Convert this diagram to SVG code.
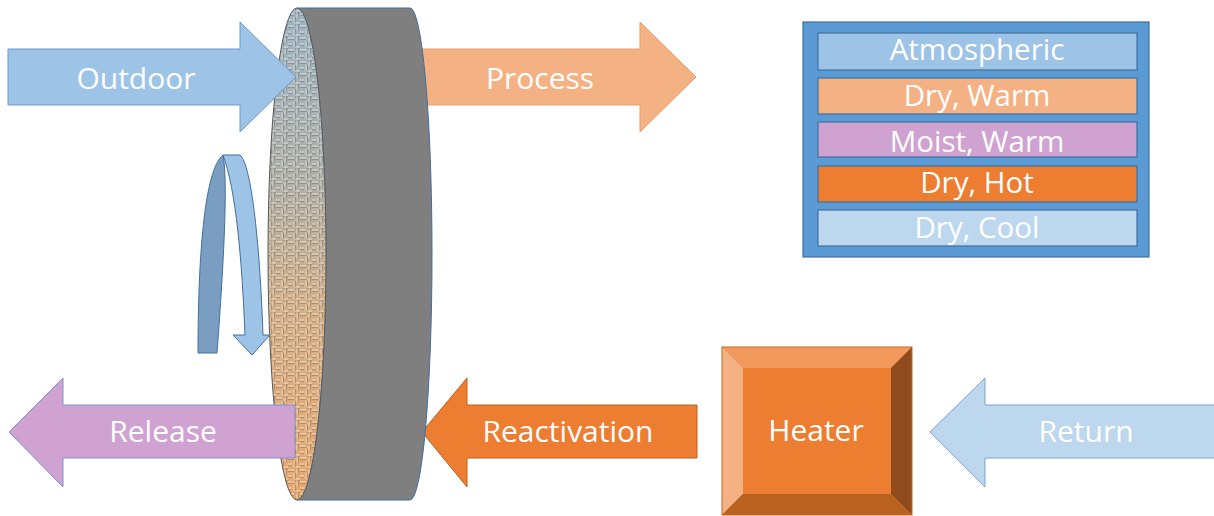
<svg xmlns="http://www.w3.org/2000/svg" width="1214" height="516" viewBox="0 0 1214 516">
  <style>
    .lbl { font-family: "Open Sans", "Liberation Sans", sans-serif; font-size: 30px; fill: #ffffff; text-anchor: middle; }
    .leg { font-family: "Open Sans", "Liberation Sans", sans-serif; font-size: 29.5px; fill: #ffffff; text-anchor: middle; }
    .row { stroke: #41719C; stroke-width: 1.2; }
  </style>
  <defs>
    <linearGradient id="faceGrad" x1="0" y1="0" x2="0" y2="1">
      <stop offset="0" stop-color="#9EB4C2"/>
      <stop offset="0.35" stop-color="#AEAFA8"/>
      <stop offset="0.6" stop-color="#D2AF88"/>
      <stop offset="1" stop-color="#E6A870"/>
    </linearGradient>
    <!-- woven desiccant media texture -->
    <pattern id="weave" width="12" height="12" patternUnits="userSpaceOnUse">
      <path d="M0 2h6M6 5v6M0 8h4M9 0v6M7 11h5" stroke="#ffffff" stroke-opacity="0.38" stroke-width="1.3" fill="none"/>
      <path d="M0 3.5h6M7.5 5v6M0 9.5h4M10.5 0v6M7 0.8h5" stroke="#3a3020" stroke-opacity="0.25" stroke-width="1.1" fill="none"/>
    </pattern>
  </defs>

  <!-- process stream leaving the wheel (drawn under the wheel) -->
  <g id="process">
    <path d="M400,49 L640,49 L640,22 L696,77 L640,132 L640,105 L400,105 Z" fill="#F4B183" stroke="#E0A070" stroke-width="1"/>
    <text class="lbl" x="540" y="89">Process</text>
  </g>

  <!-- reactivation stream entering the wheel -->
  <g id="reactivation">
    <path d="M697,405 L467,405 L467,378 L422,432 L467,487 L467,458 L697,458 Z" fill="#ED7D31" stroke="#B8621F" stroke-width="1"/>
    <text class="lbl" x="568" y="442">Reactivation</text>
  </g>

  <!-- desiccant wheel -->
  <g id="wheel">
    <path d="M297,8 L410,8 A22,246 0 0 1 410,500 L297,500 A29,246 0 0 0 297,8 Z" fill="#7F7F7F" stroke="#41719C" stroke-width="1"/>
    <path d="M297,8 A29,246 0 0 0 297,500 A29,246 0 0 0 297,8 Z" fill="url(#faceGrad)"/>
    <path d="M297,8 A29,246 0 0 0 297,500 A29,246 0 0 0 297,8 Z" fill="url(#weave)" stroke="#5a5a5a" stroke-width="1"/>
  </g>

  <!-- outdoor air entering -->
  <g id="outdoor">
    <path d="M8,49 L240,49 L240,22 L296,77 L240,132 L240,105 L8,105 Z" fill="#9DC3E6" stroke="#6A9BCB" stroke-width="1"/>
    <text class="lbl" x="136" y="89">Outdoor</text>
  </g>

  <!-- release air leaving -->
  <g id="release">
    <path d="M295,405 L63,405 L63,378 L9,432 L63,487 L63,458 L295,458 Z" fill="#CFA2D1" stroke="#7F92D0" stroke-width="1"/>
    <text class="lbl" x="163" y="442">Release</text>
  </g>

  <!-- rotation indicator -->
  <g id="rotation">
    <path d="M198,353 C198,260 204,170 223,155 C228,180 224,260 217,353 Z" fill="#7A9DC2" stroke="#41719C" stroke-width="1"/>
    <path d="M223,155 L240,155 C252,165 260,250 263,335 L270,335 L252,355 L233,335 L245,335 C242,260 236,190 223,155 Z" fill="#9DC3E6" stroke="#41719C" stroke-width="1"/>
  </g>

  <!-- heater box with bevel -->
  <g id="heater">
    <rect x="722" y="347" width="190" height="168" fill="#ED7D31"/>
    <polygon points="722,347 912,347 891,368 743,368" fill="#F19A5C"/>
    <polygon points="722,347 743,368 743,494 722,515" fill="#F4B183"/>
    <polygon points="912,347 912,515 891,494 891,368" fill="#8F4B1E"/>
    <polygon points="722,515 743,494 891,494 912,515" fill="#B9621F"/>
    <rect x="743" y="368" width="148" height="126" fill="#ED7D31"/>
    <rect x="722" y="347" width="190" height="168" fill="none" stroke="#C9671F" stroke-width="1"/>
    <text class="lbl" x="816" y="441">Heater</text>
  </g>

  <!-- return air -->
  <g id="return">
    <path d="M1215,405 L985,405 L985,378 L930,432 L985,487 L985,458 L1215,458 Z" fill="#BDD7EE" stroke="#7FA5CC" stroke-width="1"/>
    <text class="lbl" x="1086" y="442">Return</text>
  </g>

  <!-- colour key -->
  <g id="legend">
    <rect x="803" y="22" width="346" height="235" fill="#5B9BD5" stroke="#41719C" stroke-width="1.2"/>
    <rect class="row" x="818" y="33" width="319" height="37" fill="#9DC3E6"/>
    <text class="leg" x="977" y="60">Atmospheric</text>
    <rect class="row" x="818" y="78" width="319" height="36" fill="#F4B183"/>
    <text class="leg" x="977" y="106">Dry, Warm</text>
    <rect class="row" x="818" y="122" width="319" height="35" fill="#CFA2D1"/>
    <text class="leg" x="977" y="152">Moist, Warm</text>
    <rect class="row" x="818" y="166" width="319" height="36" fill="#ED7D31"/>
    <text class="leg" x="977" y="193">Dry, Hot</text>
    <rect class="row" x="818" y="210" width="319" height="36" fill="#BDD7EE"/>
    <text class="leg" x="977" y="238">Dry, Cool</text>
  </g>
</svg>
